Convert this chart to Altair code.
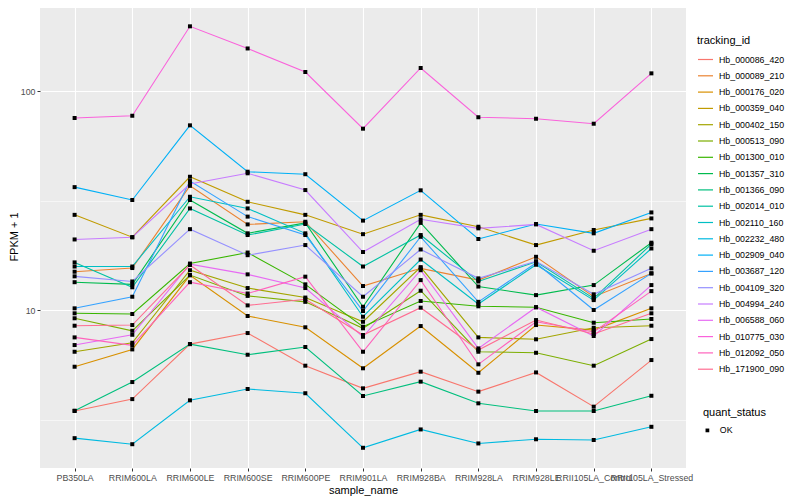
import altair as alt
import pandas as pd

samples = ["PB350LA", "RRIM600LA", "RRIM600LE", "RRIM600SE", "RRIM600PE", "RRIM901LA",
           "RRIM928BA", "RRIM928LA", "RRIM928LE", "RRII105LA_Control", "RRII105LA_Stressed"]

tracking_ids = ["Hb_000086_420", "Hb_000089_210", "Hb_000176_020", "Hb_000359_040", "Hb_000402_150",
                "Hb_000513_090", "Hb_001300_010", "Hb_001357_310", "Hb_001366_090", "Hb_002014_010",
                "Hb_002110_160", "Hb_002232_480", "Hb_002909_040", "Hb_003687_120", "Hb_004109_320",
                "Hb_004994_240", "Hb_006588_060", "Hb_010775_030", "Hb_012092_050", "Hb_171900_090"]

palette = ["#F8766D", "#EA8331", "#D89000", "#C09B00", "#A3A500", "#7CAE00", "#39B600", "#00BB4E",
           "#00BF7D", "#00C1A3", "#00BFC4", "#00BAE0", "#00B0F6", "#35A2FF", "#9590FF", "#C77CFF",
           "#E76BF3", "#FA62DB", "#FF62BC", "#FF6C91"]

# FPKM + 1 per sample (same order as samples)
hb_000086_420 = [3.46, 3.92, 6.99, 7.85, 5.57, 4.39, 5.23, 4.24, 5.19, 3.62, 5.91]
hb_000089_210 = [14.96, 15.55, 36.9, 24.6, 25.3, 12.87, 15.5, 13.7, 17.5, 11.5, 14.7]
hb_000176_020 = [5.51, 6.61, 14.4, 9.39, 8.34, 5.42, 8.45, 5.17, 8.54, 8.1, 10.18]
hb_000359_040 = [27.2, 21.5, 40.6, 31.2, 27.2, 22.2, 27.2, 24.0, 19.8, 23.2, 26.2]
hb_000402_150 = [6.45, 7.09, 15.2, 12.6, 11.4, 8.84, 15.7, 7.5, 7.35, 8.3, 8.48]
hb_000513_090 = [9.17, 8.04, 14.45, 11.6, 10.9, 8.25, 12.25, 6.45, 6.38, 5.57, 7.37]
hb_001300_010 = [9.66, 9.59, 16.3, 18.3, 13.1, 8.39, 11.0, 10.4, 10.3, 8.75, 9.10]
hb_001357_310 = [13.4, 13.1, 31.8, 22.4, 25.0, 10.35, 25.0, 12.8, 11.7, 13.0, 20.3]
hb_001366_090 = [3.47, 4.69, 6.99, 6.25, 6.78, 4.05, 4.71, 3.75, 3.46, 3.46, 4.06]
hb_002014_010 = [16.5, 12.7, 29.1, 22.0, 24.7, 15.8, 22.0, 13.5, 16.6, 11.3, 20.0]
hb_002110_160 = [15.8, 15.8, 32.9, 29.1, 22.4, 9.32, 17.0, 10.65, 16.1, 11.1, 19.1]
hb_002232_480 = [2.60, 2.44, 3.87, 4.36, 4.17, 2.35, 2.85, 2.46, 2.57, 2.55, 2.93]
hb_002909_040 = [36.4, 31.8, 69.7, 42.8, 41.7, 25.6, 35.2, 21.1, 24.7, 22.4, 27.9]
hb_003687_120 = [10.18, 11.5, 38.8, 26.7, 22.0, 9.90, 21.6, 10.9, 16.4, 10.0, 14.7]
hb_004109_320 = [14.25, 13.5, 23.4, 17.8, 19.8, 11.5, 18.9, 13.95, 16.7, 11.8, 15.5]
hb_004994_240 = [21.0, 21.5, 37.6, 42.1, 35.3, 18.4, 25.95, 23.6, 24.6, 18.65, 23.4]
hb_006588_060 = [6.92, 7.71, 16.2, 14.55, 12.6, 7.55, 15.2, 6.68, 10.3, 7.61, 13.0]
hb_010775_030 = [75.3, 77.1, 197.4, 156.4, 122.1, 67.3, 127.4, 75.9, 74.7, 70.9, 120.4]
hb_012092_050 = [7.5, 6.9, 13.4, 11.9, 14.2, 6.45, 13.7, 5.65, 8.84, 7.94, 12.2]
hb_171900_090 = [8.48, 8.54, 16.05, 10.5, 11.2, 7.69, 10.25, 6.57, 9.0, 7.77, 9.66]

series = [hb_000086_420, hb_000089_210, hb_000176_020, hb_000359_040, hb_000402_150,
          hb_000513_090, hb_001300_010, hb_001357_310, hb_001366_090, hb_002014_010,
          hb_002110_160, hb_002232_480, hb_002909_040, hb_003687_120, hb_004109_320,
          hb_004994_240, hb_006588_060, hb_010775_030, hb_012092_050, hb_171900_090]

y_tick_values = [3.1623, 10, 31.623, 100]
major_test = "datum.value == 10 || datum.value == 100"

rows = []
for order, (tid, vals) in enumerate(zip(tracking_ids, series)):
    for s, v in zip(samples, vals):
        rows.append({"sample_name": s, "tracking_id": tid, "fpkm": v,
                     "quant_status": "OK", "ord": order})
df = pd.DataFrame(rows)

FONT = "Liberation Sans"

x_enc = alt.X("sample_name:N", sort=samples,
              scale=alt.Scale(type="point", padding=0.6),
              axis=alt.Axis(title="sample_name", labelAngle=0, labelOverlap=False, labelBound=False,
                            labelFontSize=8.8, labelColor="#4D4D4D", labelPadding=2,
                            tickColor="#333333", tickSize=3, domain=False,
                            grid=True, gridColor="#FFFFFF", gridWidth=1.1,
                            titleFontSize=11, titleFontWeight="normal", titleColor="#000000",
                            titlePadding=3))

y_enc = alt.Y("fpkm:Q",
              scale=alt.Scale(type="log", domain=[1.9, 247], nice=False, zero=False),
              axis=alt.Axis(title="FPKM + 1", values=y_tick_values,
                            labelExpr="(datum.value == 10 || datum.value == 100) ? format(datum.value, 'd') : ''",
                            labelFontSize=8.8, labelColor="#4D4D4D", labelPadding=2,
                            tickSize=3,
                            tickColor={"condition": {"test": major_test, "value": "#333333"},
                                       "value": "rgba(0,0,0,0)"},
                            domain=False, grid=True, gridColor="#FFFFFF",
                            gridWidth={"condition": {"test": major_test, "value": 1.1},
                                       "value": 0.55},
                            titleFontSize=11, titleFontWeight="normal", titleColor="#000000",
                            titlePadding=1))

lines = alt.Chart(df).mark_line(strokeWidth=1.1).encode(
    x=x_enc,
    y=y_enc,
    color=alt.Color("tracking_id:N", sort=tracking_ids,
                    scale=alt.Scale(domain=tracking_ids, range=palette),
                    legend=alt.Legend(title="tracking_id", orient="none", legendX=657, legendY=30,
                                      symbolType="stroke", symbolSize=225, symbolStrokeWidth=1.2,
                                      rowPadding=2.3, labelOffset=5, labelFontSize=8.8,
                                      labelColor="#000000", titleFontSize=11,
                                      titleFontWeight="normal", titleColor="#000000",
                                      titlePadding=5, padding=0)),
    order=alt.Order("ord:Q"),
)

points = alt.Chart(df).mark_point(filled=True, size=16, color="#000000", opacity=1).encode(
    x=alt.X("sample_name:N", sort=samples),
    y=alt.Y("fpkm:Q"),
    shape=alt.Shape("quant_status:N", scale=alt.Scale(domain=["OK"], range=["square"]),
                    legend=alt.Legend(title="quant_status", orient="none", legendX=663, legendY=402,
                                      symbolSize=14, symbolFillColor="#000000",
                                      symbolStrokeColor="#000000", labelOffset=8,
                                      labelFontSize=8.8, labelColor="#000000",
                                      titleFontSize=11, titleFontWeight="normal",
                                      titleColor="#000000", titlePadding=8, padding=0)),
)

chart = alt.layer(lines, points).properties(
    width=646, height=463,
    autosize=alt.AutoSizeParams(type="none"),
    padding={"left": 32, "top": -3, "right": 106, "bottom": 30},
).configure(font=FONT).configure_view(fill="#EBEBEB", stroke=None)

chart.save("out.html", embed_options={"renderer": "svg", "actions": False})
